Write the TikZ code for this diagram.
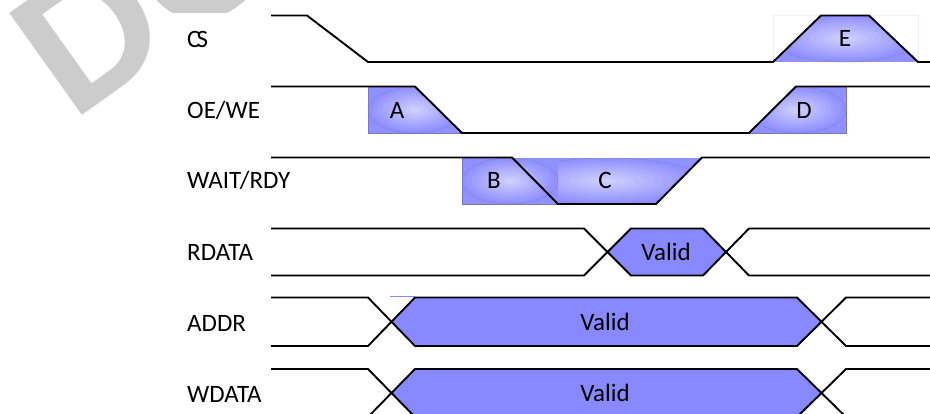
\documentclass[tikz,border=0pt]{standalone}
\usepackage{fontspec}
\setmainfont{Carlito}
\newfontfamily\markfont{Liberation Sans}[BoldFont={Liberation Sans Bold}]
\definecolor{validblue}{HTML}{8888FF}
\definecolor{blobbase}{HTML}{9090FF}
\definecolor{blobhigh}{HTML}{CECEFF}
\definecolor{blobedge}{HTML}{7878C4}
\definecolor{markgray}{HTML}{CCCCCC}
\tikzset{
  wave/.style={line width=1.9pt, black, line join=miter},
  sigtext/.style={anchor=base west, inner sep=0pt, font=\fontsize{25}{25}\selectfont},
  blobtext/.style={inner sep=0pt, font=\fontsize{25}{25}\selectfont},
  blobline/.style={line width=.6pt, blobedge}
}
% banded highlight: centre x, centre y, x radius, y radius
\newcommand{\waveblob}[4]{
  \fill[blobbase] (#1-#3,#2-#4) rectangle (#1+#3,#2+#4);
  \foreach \i in {0,...,9}{
    \pgfmathsetmacro{\shr}{1-\i/10}
    \pgfmathsetmacro{\mixp}{\i*100/9}
    \fill[blobhigh!\mixp!blobbase] (#1,#2) ellipse [x radius=#3*\shr, y radius=#4*\shr];
  }
  \draw[blobedge!70!blobbase, line width=.35pt] (#1,#2) ellipse [x radius=#3, y radius=#4];
}
\begin{document}
\begin{tikzpicture}[x=1pt,y=-1pt]
  \clip (0,0) rectangle (930,413);

  % Watermark, cut off by the sheet of the diagram
  \node[anchor=base west, inner sep=0pt, rotate=35.5, markgray,
        font=\markfont\bfseries\fontsize{182}{182}\selectfont] (watermark) at (72,123) {DO};
  \fill[white] (173,13) rectangle (930,413);

  % --- Filled areas ---
  % E on CS
  \begin{scope}
    \clip (773,62) -- (821,15) -- (869,15) -- (918,62) -- cycle;
    \waveblob{845.5}{38.5}{72.5}{23.5}
  \end{scope}
  \draw[line width=.4pt, blobhigh!35] (773,62) -- (773,15) -- (918,15) -- (918,62);
  % A on OE/WE
  \begin{scope}
    \clip (368,87) -- (415,87) -- (462,133) -- (368,133) -- cycle;
    \waveblob{415}{110}{47}{23}
  \end{scope}
  \draw[blobline] (368,87) -- (368,133) -- (462,133);
  % D on OE/WE
  \begin{scope}
    \clip (749,133) -- (796,87) -- (846,87) -- (846,133) -- cycle;
    \waveblob{797.5}{110}{48.5}{23}
  \end{scope}
  \draw[blobline] (749,133) -- (846,133) -- (846,87);
  % C on WAIT/RDY, B goes over it
  \begin{scope}
    \clip (512,158) -- (702,158) -- (656,204) -- (558,204) -- cycle;
    \waveblob{607}{181}{95}{23}
  \end{scope}
  \begin{scope}
    \clip (462,158) rectangle (558,204.5);
    \waveblob{510}{181}{48}{23}
  \end{scope}
  \draw[blobline] (462,158) -- (462,204) -- (558,204);
  % Valid windows
  \fill[validblue] (607.5,252) -- (631,228.5) -- (703,228.5) -- (726,252) -- (703,275.5) -- (631,275.5) -- cycle;
  \fill[validblue] (391.5,322) -- (415,297.5) -- (797,297.5) -- (821.5,322) -- (797,346) -- (415,346) -- cycle;
  \fill[validblue] (391.5,393) -- (415,369) -- (797,369) -- (821.5,393) -- (797,417) -- (415,417) -- cycle;
  \draw[validblue, line width=.8pt] (390,296.5) -- (415,296.5);

  % --- Signal lines ---
  % CS
  \draw[wave] (271,15.5) -- (307,15.5) -- (368,62) -- (773,62) -- (821,15.5) -- (869,15.5) -- (918,62) -- (930,62);
  % OE/WE
  \draw[wave] (271,86.5) -- (415,86.5) -- (462,133) -- (749,133) -- (796,86.5) -- (930,86.5);
  % WAIT/RDY
  \draw[wave] (271,157.5) -- (512,157.5) -- (558,204) -- (656,204) -- (702,157.5) -- (930,157.5);
  % RDATA
  \draw[wave] (271,228.5) -- (584,228.5) -- (631,275.5) -- (703,275.5) -- (749,228.5) -- (930,228.5);
  \draw[wave] (271,275.5) -- (584,275.5) -- (631,228.5) -- (703,228.5) -- (749,275.5) -- (930,275.5);
  % ADDR
  \draw[wave] (271,297.5) -- (368,297.5) -- (415,346) -- (797,346) -- (846,297.5) -- (930,297.5);
  \draw[wave] (271,346) -- (368,346) -- (415,297.5) -- (797,297.5) -- (846,346) -- (930,346);
  % WDATA
  \draw[wave] (271,369) -- (368,369) -- (415,417) -- (797,417) -- (846,369) -- (930,369);
  \draw[wave] (271,417) -- (368,417) -- (415,369) -- (797,369) -- (846,417) -- (930,417);

  % --- Labels ---
  \node[sigtext] (cslabel) at (187,47) {C\kern-4pt S};
  \node[sigtext] (oelabel) at (187,118) {OE/WE};
  \node[sigtext] (waitlabel) at (187,188.5) {WAIT/RDY};
  \node[sigtext] (rdatalabel) at (187,260) {RDATA};
  \node[sigtext] (addrlabel) at (187,331) {ADDR};
  \node[sigtext] (wdatalabel) at (187,402) {WDATA};

  \node[blobtext] (blobA) at (397,110) {A};
  \node[blobtext] (blobB) at (494,180) {B};
  \node[blobtext] (blobC) at (605,180) {C};
  \node[blobtext] (blobD) at (804,110) {D};
  \node[blobtext] (blobE) at (845,38) {E};

  \node[blobtext] (rdatavalid) at (666,252) {Valid};
  \node[blobtext] (addrvalid) at (605,322) {Valid};
  \node[blobtext] (wdatavalid) at (605,393) {Valid};
\end{tikzpicture}
\end{document}
